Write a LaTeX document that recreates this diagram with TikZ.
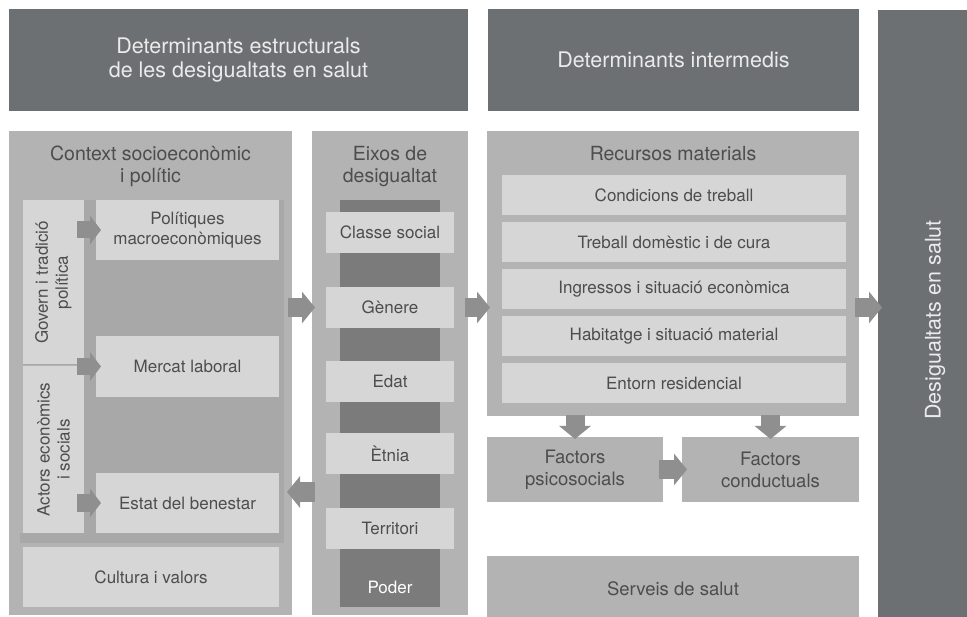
\documentclass[tikz,border=0pt]{standalone}
\usepackage{fontspec}
\setmainfont{TeX Gyre Heros}
\usetikzlibrary{positioning,arrows.meta}

\definecolor{hdrgray}{HTML}{6D7073}
\definecolor{panelgray}{HTML}{B3B3B3}
\definecolor{innergray}{HTML}{A8A8A8}
\definecolor{itemgray}{HTML}{D6D6D6}
\definecolor{colgray}{HTML}{7B7B7B}
\definecolor{arrowgray}{HTML}{8F8F8F}
\definecolor{txtgray}{HTML}{4D4D4D}

\begin{document}
\begin{tikzpicture}[x=1pt,y=-1pt,
  box/.style={anchor=north west, inner sep=0pt, outer sep=0pt, align=center},
  hdr/.style={box, fill=hdrgray, text=white!92!black, font=\fontsize{21.5}{24}\selectfont},
  panel/.style={box, fill=panelgray, text=txtgray, font=\fontsize{18.5}{22}\selectfont},
  item/.style={box, fill=itemgray, text=txtgray, font=\fontsize{17}{20}\selectfont},
  title/.style={inner sep=0pt, align=center, text=txtgray, font=\fontsize{19.5}{22}\selectfont},
  strip/.style={inner sep=0pt, align=center, rotate=90, text=txtgray, font=\fontsize{17}{20}\selectfont},
  barrow/.style={arrowgray, line width=19pt, -{Triangle[width=31pt,length=13pt]}},
  sarrow/.style={arrowgray, line width=17pt, -{Triangle[width=28pt,length=11pt]}}]
  \useasboundingbox (0,0) rectangle (967,617);
  \fill[white] (0,0) rectangle (967,617);

  % headers
  \node[hdr, minimum width=459pt, minimum height=102pt] (hstr) at (9,9)
    {Determinants estructurals\\de les desigualtats en salut};
  \node[hdr, minimum width=371pt, minimum height=102pt] (hint) at (488,9)
    {Determinants intermedis};
  \node[hdr, minimum width=114pt, minimum height=620pt] (desig) at (878,10) {};
  \node[rotate=90, text=white!92!black, font=\fontsize{21.5}{24}\selectfont]
    at (desig.center) {Desigualtats en salut};

  % context socioeconomic
  \node[panel, minimum width=283pt, minimum height=484pt] (ctx) at (9,131) {};
  \node[title, below=15pt of ctx.north] {Context socioeconòmic\\i polític};
  \fill[innergray] (84,200) rectangle (284,543);
  \fill[innergray] (20,533) rectangle (284,543);
  \node[item, minimum width=61pt, minimum height=165pt] (gov) at (23,200) {};
  \node[item, minimum width=61pt, minimum height=167pt] (act) at (23,366) {};
  \draw[innergray, line width=1pt] (gov.south west) -- (gov.south east);
  \node[strip] at (gov.center) {Govern i tradició\\política};
  \node[strip] at (act.center) {Actors econòmics\\i socials};
  \node[item, minimum width=183pt, minimum height=60pt] (pol) at (96,200)
    {Polítiques\\macroeconòmiques};
  \node[item, minimum width=183pt, minimum height=61pt] (mer) at (96,336)
    {Mercat laboral};
  \node[item, minimum width=183pt, minimum height=60pt] (est) at (96,473)
    {Estat del benestar};
  \node[item, minimum width=256pt, minimum height=60pt] (cul) at (23,547)
    {Cultura i valors};

  % eixos de desigualtat
  \node[panel, minimum width=156pt, minimum height=484pt] (eix) at (312,131) {};
  \node[title, below=15pt of eix.north] {Eixos de\\desigualtat};
  \node[box, fill=colgray, minimum width=100pt, minimum height=407pt] (col) at (340,200) {};
  \node[item, minimum width=128pt, minimum height=41pt] (cls) at (326,212) {Classe social};
  \node[item, minimum width=128pt, minimum height=41pt] (gen) at (326,287) {Gènere};
  \node[item, minimum width=128pt, minimum height=41pt] (eda) at (326,361) {Edat};
  \node[item, minimum width=128pt, minimum height=41pt] (etn) at (326,433) {Ètnia};
  \node[item, minimum width=128pt, minimum height=41pt] (ter) at (326,508) {Territori};
  \node[text=white, font=\fontsize{17}{20}\selectfont] (pod) at (390,587) {Poder};

  % recursos materials
  \node[panel, minimum width=372pt, minimum height=285pt] (rec) at (487,131) {};
  \node[title, below=15pt of rec.north] {Recursos materials};
  \node[item, minimum width=344pt, minimum height=40pt] (cond) at (502,175) {Condicions de treball};
  \node[item, minimum width=344pt, minimum height=40pt] (dom) at (502,222) {Treball domèstic i de cura};
  \node[item, minimum width=344pt, minimum height=40pt] (ing) at (502,269) {Ingressos i situació econòmica};
  \node[item, minimum width=344pt, minimum height=40pt] (hab) at (502,316) {Habitatge i situació material};
  \node[item, minimum width=344pt, minimum height=40pt] (ent) at (502,363) {Entorn residencial};

  \node[panel, minimum width=176pt, minimum height=65pt] (fps) at (487,437) {Factors\\psicosocials};
  \node[panel, minimum width=177pt, minimum height=65pt] (fco) at (682,437) {Factors\\conductuals};
  \node[panel, minimum width=372pt, minimum height=65pt] (ser) at (487,556) {Serveis de salut};

  % arrows
  \draw[sarrow] ([xshift=-7pt]gov.east |- pol.west) -- ([xshift=5pt]pol.west);
  \draw[sarrow] ([xshift=-7pt]gov.east |- mer.west) -- ([xshift=5pt]mer.west);
  \draw[sarrow] ([xshift=-7pt]act.east |- est.west) -- ([xshift=5pt]est.west);
  \draw[barrow] ([xshift=-4pt]ctx.east |- gen.west) -- ([xshift=3pt]eix.west |- gen.west);
  \draw[barrow] ([xshift=3pt,yshift=11pt]eix.west |- est.east) -- ([xshift=-5pt,yshift=11pt]ctx.east |- est.east);
  \draw[barrow] ([xshift=-3pt]eix.east |- gen.east) -- ([xshift=3pt]rec.west |- gen.east);
  \draw[barrow] ([xshift=-4pt]rec.east |- gen.east) -- ([xshift=4pt]desig.west |- gen.east);
  \draw[barrow] ([yshift=1pt]rec.south -| fps.north) -- ([yshift=-2pt]fps.north);
  \draw[barrow] ([yshift=1pt]rec.south -| fco.north) -- ([yshift=-2pt]fco.north);
  \draw[barrow] ([xshift=-4pt]fps.east) -- ([xshift=5pt]fco.west);
\end{tikzpicture}
\end{document}
